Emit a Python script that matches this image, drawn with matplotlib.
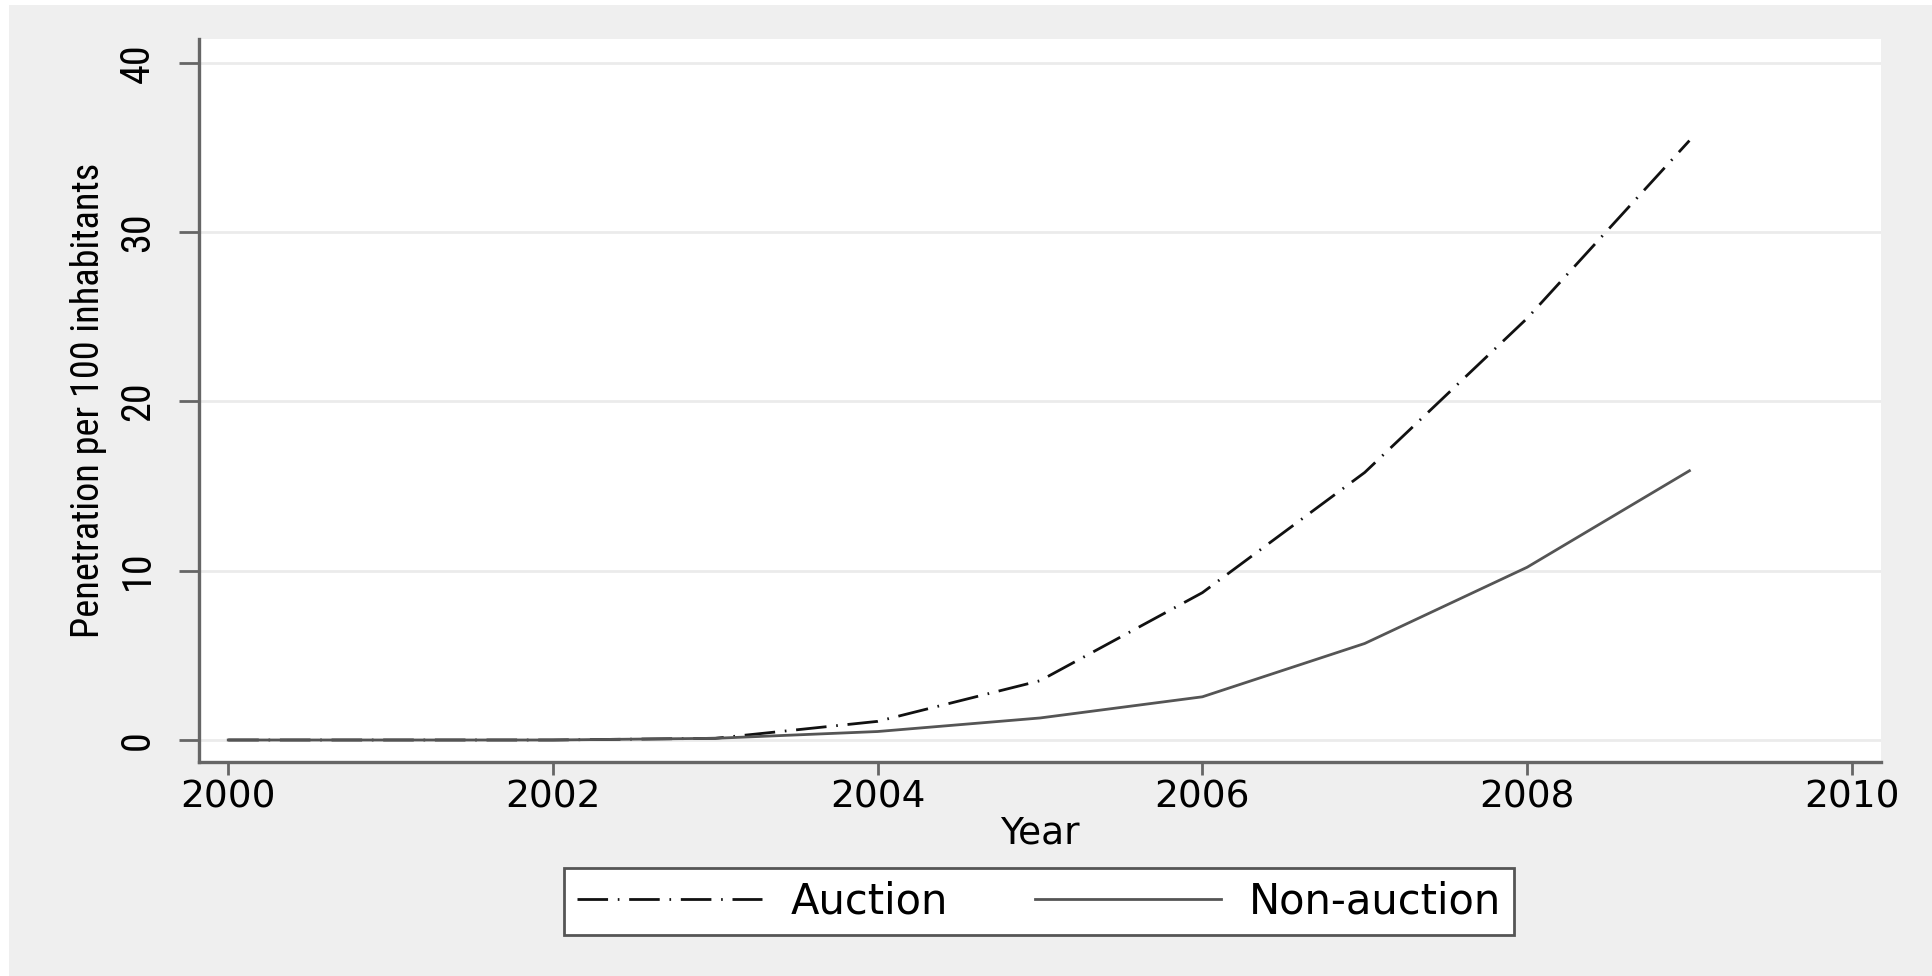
import glob
import matplotlib
matplotlib.use("Agg")
import matplotlib.pyplot as plt
from matplotlib import font_manager
from matplotlib.patches import Rectangle

# Broadband penetration by licensing regime
years = [2000, 2001, 2002, 2003, 2004, 2005, 2006, 2007, 2008, 2009]
auction = [0.0, 0.0, 0.0, 0.1, 1.1, 3.5, 8.7, 15.8, 24.9, 35.4]
non_auction = [0.0, 0.0, 0.0, 0.1, 0.5, 1.3, 2.55, 5.7, 10.2, 15.9]

x_ticks = [2000, 2002, 2004, 2006, 2008, 2010]
y_ticks = [0, 10, 20, 30, 40]

# look for a condensed face for the rotated y-axis text
files = [f.fname for f in font_manager.fontManager.ttflist]
files += glob.glob("/usr/share/fonts/**/*.ttf", recursive=True)
narrow_file = None
for key in ["LiberationSansNarrow-Regular", "RobotoCondensed-Regular",
            "DejaVuSansCondensed.ttf", "OpenSans_Condensed-Regular",
            "OpenSansCondensed-Regular", "NotoSans-Condensed.ttf",
            "NotoSansDisplay-Condensed"]:
    hits = [f for f in files if key in f]
    if hits:
        narrow_file = hits[0]
        break

if narrow_file:
    ytick_font = font_manager.FontProperties(fname=narrow_file, size=29)
    ylab_font = font_manager.FontProperties(fname=narrow_file, size=27.5)
else:
    ytick_font = font_manager.FontProperties(family="DejaVu Sans", size=25)
    ylab_font = font_manager.FontProperties(family="DejaVu Sans", size=21)

plt.rcParams["font.family"] = "DejaVu Sans"

fig = plt.figure(figsize=(19.33, 9.76), dpi=100, facecolor="white")
fig.patches.append(Rectangle((9 / 1933, 0), 1, 1 - 5 / 976, transform=fig.transFigure,
                             facecolor="#efefef", edgecolor="none", zorder=-10))

ax = fig.add_axes([199 / 1933, 1 - 762 / 976, 1682 / 1933, 723 / 976])
ax.set_facecolor("white")

ax.plot(years, auction, color="#111111", linewidth=2.0,
        linestyle=(0, (11, 3.5, 0.6, 3.5)), label="Auction")
ax.plot(years, non_auction, color="#555555", linewidth=2.0, label="Non-auction")

ax.set_xlim(1999.82, 2010.18)
ax.set_ylim(-1.3, 41.4)
ax.set_xticks(x_ticks)
ax.set_yticks(y_ticks)
ax.yaxis.grid(True, color="#ebebeb", linewidth=2)
ax.set_axisbelow(True)

for side in ["top", "right"]:
    ax.spines[side].set_visible(False)
for side in ["left", "bottom"]:
    ax.spines[side].set_color("#666666")
    ax.spines[side].set_linewidth(2.4)

ax.tick_params(axis="x", length=9.4, width=2, color="#666666", pad=3, labelsize=27)
ax.tick_params(axis="y", length=14.4, width=2, color="#666666", pad=16, labelrotation=90)
for lab in ax.get_yticklabels():
    lab.set_fontproperties(ytick_font)
    lab.set_verticalalignment("center")

ax.set_xlabel("Year", fontsize=27, labelpad=0)
ax.set_ylabel("Penetration per 100 inhabitants", fontproperties=ylab_font)
ax.yaxis.set_label_coords(-0.0547, 0.5)

leg = fig.legend(loc="center", bbox_to_anchor=(1039 / 1933, 1 - 901.5 / 976),
                 ncol=2, fontsize=30, frameon=True, fancybox=False,
                 edgecolor="#555555", facecolor="white", framealpha=1,
                 handlelength=4.45, handletextpad=0.68, columnspacing=2.1,
                 borderpad=0.3, borderaxespad=0)
leg.get_frame().set_linewidth(2)

fig.savefig("out.png", dpi=100, facecolor=fig.get_facecolor())
